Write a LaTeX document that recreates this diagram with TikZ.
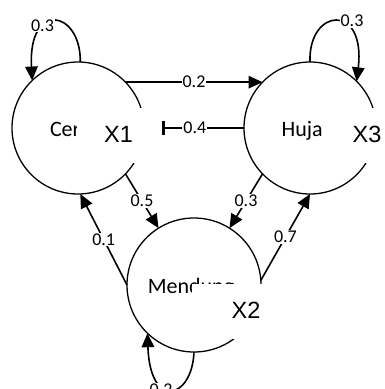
\documentclass[tikz,border=0pt]{standalone}
\usepackage{fontspec}
\setmainfont{Carlito}
\newfontfamily\arialf{Liberation Sans}
\usetikzlibrary{arrows.meta}
\tikzset{
  state/.style={circle,draw,line width=1.3pt,inner sep=0pt,outer sep=0pt},
  lbl/.style={fill=white,inner sep=1pt,font=\fontsize{18}{18}\selectfont},
  cover/.style={fill=white,draw=none,inner sep=0pt,outer sep=0pt},
  xlab/.style={font=\arialf\fontsize{23.5}{23.5}\selectfont,anchor=base,inner sep=0pt},
  body/.style={font=\fontsize{22}{22}\selectfont,anchor=base,inner sep=0pt},
  edge/.style={line width=1.6pt,-{Triangle[length=14pt,width=12.5pt]}},
  baredge/.style={line width=1.6pt,-{Bar[width=14pt,line width=2.6pt]}},
}
\begin{document}
\begin{tikzpicture}[x=1pt,y=-1pt]
\useasboundingbox (0,0) rectangle (384,389);
\clip (0,0) rectangle (384,389);
% circles
\node[state,minimum size=132pt] (c1) at (78,128) {};
\node[state,minimum size=132pt] (c3) at (310,128) {};
\node[state,minimum size=134pt] (c2) at (194,285) {};
% state names
\node[body] (t1) at (76,136) {Cerah};
\node[body] (t3) at (308,136) {Hujan};
\node[body] (t2) at (191,293) {Mendung};
% white boxes of the X labels
\node[cover,minimum width=69pt,minimum height=55pt] (b1) at (111.5,135.5) {};
\node[cover,minimum width=60pt,minimum height=55pt] (b3) at (354,135.5) {};
\node[cover,minimum width=76pt,minimum height=55pt] (b2) at (230,311.5) {};
\node[xlab] (x1) at (118.5,142) {X1};
\node[xlab] (x3) at (367,142) {X3};
\node[xlab] (x2) at (246,318) {X2};
% transitions
\draw[edge] (c1.44) -- node[lbl] (l12) {0.2} (c3.136);
\coordinate (bar) at (162,128);
\draw[baredge] (c3.180) -- node[lbl,pos=0.6] (l31) {0.4} (bar);
\draw[edge] (c1.-44) -- node[lbl] (l15) {0.5} (c2.122);
\draw[edge] (c3.-136) -- node[lbl] (l32) {0.3} (c2.58);
\draw[edge] (c2.180) -- node[lbl] (l21) {0.1} (c1.-88);
\draw[edge] (c2.4) -- node[lbl] (l23) {0.7} (c3.-90);
% self loops
\draw[edge] (c1.88) .. controls (81,10) and (28,0) .. (c1.134);
\node[lbl] (s1) at (42.5,25.5) {0.3};
\draw[edge] (c3.90) .. controls (308,8) and (366,2) .. (c3.45);
\node[lbl] (s3) at (352,21) {0.3};
\draw[edge] (c2.-90) .. controls (192,400) and (150,410) .. (c2.226);
\node[lbl] (s2) at (161,390) {0.2};
\end{tikzpicture}
\end{document}
